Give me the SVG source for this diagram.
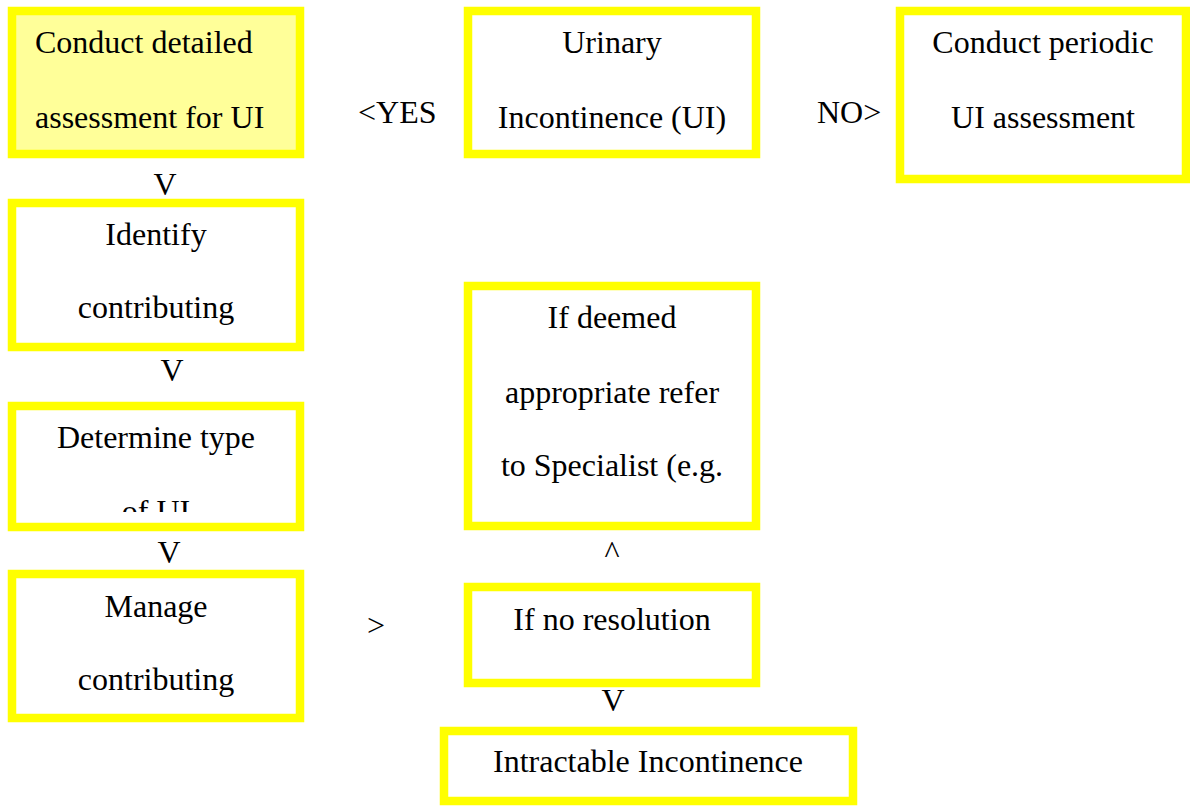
<svg xmlns="http://www.w3.org/2000/svg" width="1190" height="806" viewBox="0 0 1190 806">
<style>
.box{fill:#ffffff;stroke:#ffff00;stroke-width:8.5}
.hl{fill:#ffff99}
.t{font-family:"Liberation Serif","Times New Roman",serif;font-size:32px;fill:#000000}
.c{text-anchor:middle}
</style>
<defs>
<clipPath id="clip3"><rect x="17" y="410" width="279" height="102"/></clipPath>
</defs>
<rect width="1190" height="806" fill="#ffffff"/>
<g id="node-detailed">
<rect class="box hl" x="12" y="11" width="288" height="143"/>
<text class="t" x="35" y="53">Conduct detailed</text>
<text class="t" x="35" y="128">assessment for UI</text>
</g>
<g id="node-identify">
<rect class="box" x="12" y="203" width="288" height="144"/>
<text class="t c" x="156" y="245">Identify</text>
<text class="t c" x="156" y="318">contributing</text>
</g>
<g id="node-type">
<rect class="box" x="12" y="406" width="288" height="121"/>
<text class="t c" x="156" y="448">Determine type</text>
<text class="t c" x="156" y="522" clip-path="url(#clip3)">of UI</text>
</g>
<g id="node-manage">
<rect class="box" x="12" y="574" width="288" height="144"/>
<text class="t c" x="156" y="617">Manage</text>
<text class="t c" x="156" y="690">contributing</text>
</g>
<g id="node-ui">
<rect class="box" x="468" y="11" width="288" height="143"/>
<text class="t c" x="612" y="53">Urinary</text>
<text class="t c" x="612" y="128">Incontinence (UI)</text>
</g>
<g id="node-periodic">
<rect class="box" x="900" y="11" width="286" height="168"/>
<text class="t c" x="1043" y="53">Conduct periodic</text>
<text class="t c" x="1043" y="128">UI assessment</text>
</g>
<g id="node-refer">
<rect class="box" x="468" y="286" width="288" height="240"/>
<text class="t c" x="612" y="328">If deemed</text>
<text class="t c" x="612" y="403">appropriate refer</text>
<text class="t c" x="612" y="476">to Specialist (e.g.</text>
</g>
<g id="node-noresolution">
<rect class="box" x="468" y="587" width="288" height="96"/>
<text class="t c" x="612" y="630">If no resolution</text>
</g>
<g id="node-intractable">
<rect class="box" x="444" y="731" width="409" height="70"/>
<text class="t c" x="648" y="772">Intractable Incontinence</text>
</g>
<g id="connectors">
<text class="t" x="358" y="123">&lt;YES</text>
<text class="t" x="817" y="123">NO&gt;</text>
<text class="t c" x="165" y="195">V</text>
<text class="t c" x="172" y="381">V</text>
<text class="t c" x="169" y="563">V</text>
<text class="t c" x="612" y="563">^</text>
<text class="t" x="367" y="636">&gt;</text>
<text class="t c" x="613" y="711">V</text>
</g>
</svg>
